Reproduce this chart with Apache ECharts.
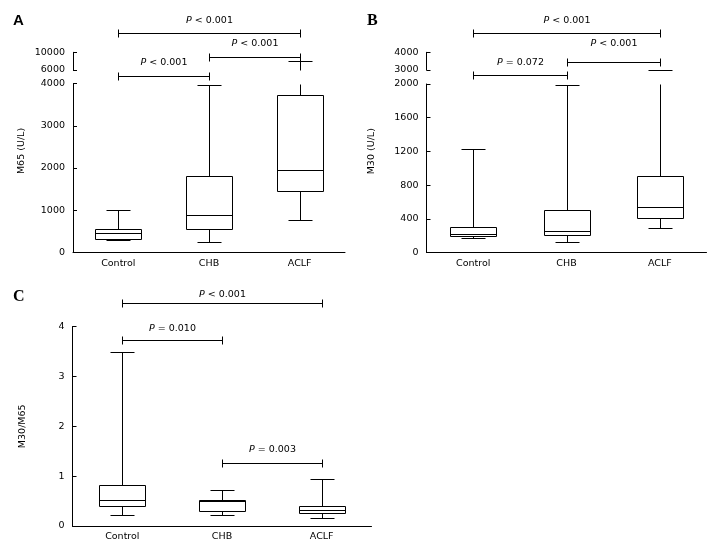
<!DOCTYPE html>
<html>
<head>
<meta charset="utf-8">
<script src="https://cdn.jsdelivr.net/npm/echarts@6/dist/echarts.min.js"></script>
<style>
html, body { margin: 0; padding: 0; background: #fff; }
#chart { width: 716px; height: 550px; }
</style>
</head>
<body>
<div id="chart"></div>
<script>
const categories = ['Control', 'CHB', 'ACLF']

// box stats per group: [low whisker, Q1, median, Q3, high whisker]
const m65Boxes = [
  [300, 320, 470, 560, 1000],
  [250, 560, 890, 1820, 3970],
  [780, 1460, 1950, 3730, 8000]
]
const m30Boxes = [
  [170, 195, 225, 300, 1225],
  [120, 205, 255, 505, 1985],
  [295, 408, 540, 910, 2990]
]
const ratioBoxes = [
  [0.22, 0.40, 0.52, 0.82, 3.49],
  [0.22, 0.295, 0.50, 0.52, 0.72],
  [0.16, 0.27, 0.32, 0.40, 0.95]
]

// broken axis ticks (upper segments)
const m65UpperTicks = [6000, 10000]
const m30UpperTicks = [3000, 4000]

// comparisons: [from group, to group, bracket level, label level] in axis units
const m65Brackets = [[0, 2, 14430, 17140], [1, 2, 8940, 11880], [0, 1, 4640, 7740]]
const m65PValues = ['< 0.001', '< 0.001', '< 0.001']
const m30Brackets = [[0, 2, 5074, 5785], [1, 2, 3435, 4469], [0, 1, 2718, 3435]]
const m30PValues = ['< 0.001', '< 0.001', '= 0.072']
const ratioBrackets = [[0, 2, 4.47, 4.64], [0, 1, 3.72, 3.96], [1, 2, 1.26, 1.54]]
const ratioPValues = ['< 0.001', '= 0.010', '= 0.003']

const FONT = 'DejaVu Sans'
const FS = 9.5
const BOX_W = 46
const CAP_W = 24

const px = v => Math.round(v) + 0.5
const seg = (x1, y1, x2, y2) => ({
  type: 'line',
  shape: { x1, y1, x2, y2 },
  style: { stroke: '#000', lineWidth: 1 }
})

function renderBox(params, api) {
  const cs = params.coordSys
  const top = cs.y, bottom = cs.y + cs.height
  const cat = api.value(0)
  const x = px(api.coord([cat, 0])[0])
  const [lo, q1, md, q3, hi] = [1, 2, 3, 4, 5].map(i => api.coord([cat, api.value(i)])[1])
  const clampY = v => Math.min(bottom, Math.max(top, v))
  const inside = v => v >= top - 1.5 && v <= bottom + 1.5
  const children = []
  const bt = clampY(q3), bb = clampY(q1)
  const wh = clampY(hi), wl = clampY(lo)
  if (Math.abs(bt - wh) > 0.5) children.push(seg(x, px(bt), x, px(wh)))
  if (Math.abs(bb - wl) > 0.5) children.push(seg(x, px(bb), x, px(wl)))
  if (inside(hi)) children.push(seg(x - CAP_W / 2, px(hi), x + CAP_W / 2, px(hi)))
  if (inside(lo)) children.push(seg(x - CAP_W / 2, px(lo), x + CAP_W / 2, px(lo)))
  if (bb - bt > 0.5) {
    children.push({
      type: 'rect',
      shape: { x: x - BOX_W / 2, y: px(bt), width: BOX_W, height: Math.round(bb) - Math.round(bt) },
      style: { fill: '#fff', stroke: '#000', lineWidth: 1 }
    })
  }
  if (inside(md)) children.push(seg(x - BOX_W / 2, px(md), x + BOX_W / 2, px(md)))
  return { type: 'group', children }
}

function renderBracket(labels) {
  return (params, api) => {
    const lvl = api.value(2)
    const a = api.coord([api.value(0), lvl])
    const b = api.coord([api.value(1), lvl])
    const ty = api.coord([0, api.value(3)])[1]
    const y = px(a[1])
    const x1 = px(a[0]), x2 = px(b[0])
    return {
      type: 'group',
      children: [
        seg(x1, y, x2, y),
        seg(x1, y - 4, x1, y + 4),
        seg(x2, y - 4, x2, y + 4),
        {
          type: 'text',
          style: {
            x: (x1 + x2) / 2, y: ty,
            text: '{i|P} ' + labels[params.dataIndex],
            fill: '#000', fontSize: FS, fontFamily: FONT,
            align: 'center', verticalAlign: 'middle',
            rich: { i: { fontStyle: 'italic', fontSize: FS, fontFamily: FONT, fill: '#000' } }
          }
        }
      ]
    }
  }
}

const toData = boxes => boxes.map((b, i) => [i, ...b])
const plain = v => String(v)

function xAxisCfg(gridIndex, show) {
  return {
    type: 'category', gridIndex, data: categories, show,
    boundaryGap: true,
    axisLine: { lineStyle: { color: '#000', width: 1 } },
    axisTick: { inside: true, length: 5, alignWithLabel: true, lineStyle: { color: '#000' } },
    axisLabel: { color: '#000', fontFamily: FONT, fontSize: FS, margin: 6 },
    splitLine: { show: false }
  }
}

function yAxisCfg(gridIndex, min, max, interval, ticks, extra) {
  const tick = { show: true, inside: true, length: 4, lineStyle: { color: '#000' } }
  const label = { color: '#000', fontFamily: FONT, fontSize: FS, margin: 8, formatter: plain, showMinLabel: true, showMaxLabel: true }
  if (ticks) { tick.customValues = ticks; label.customValues = ticks }
  return Object.assign({
    type: 'value', gridIndex, min, max, interval,
    axisLine: { show: true, lineStyle: { color: '#000', width: 1 } },
    axisTick: tick,
    axisLabel: label,
    splitLine: { show: false }
  }, extra || {})
}

const nameStyle = (name, gap, pad) => ({
  name, nameGap: gap, nameLocation: 'middle',
  nameTextStyle: { color: '#000', fontFamily: FONT, fontSize: FS, padding: [0, 0, 0, pad] }
})

const chart = echarts.init(document.getElementById('chart'))

chart.setOption({
  animation: false,
  backgroundColor: '#fff',
  title: [
    { text: 'A', left: 8, top: 8, textStyle: { fontFamily: 'Liberation Sans', fontWeight: 'bold', fontSize: 15, color: '#000' } },
    { text: 'B', left: 362, top: 8, textStyle: { fontFamily: 'Liberation Serif', fontWeight: 'bold', fontSize: 16, color: '#000' } },
    { text: 'C', left: 8, top: 284, textStyle: { fontFamily: 'Liberation Serif', fontWeight: 'bold', fontSize: 16, color: '#000' } }
  ],
  grid: [
    { left: 73, top: 83.5, width: 272, height: 169 },
    { left: 73, top: 52.3, width: 272, height: 17.7 },
    { left: 426.5, top: 84, width: 280, height: 168.5 },
    { left: 426.5, top: 52.3, width: 280, height: 17.7 },
    { left: 72.5, top: 326.5, width: 299, height: 199.5 }
  ],
  xAxis: [
    xAxisCfg(0, true),
    xAxisCfg(1, false),
    xAxisCfg(2, true),
    xAxisCfg(3, false),
    xAxisCfg(4, true)
  ],
  yAxis: [
    yAxisCfg(0, 0, 4000, 1000, null, nameStyle('M65 (U/L)', 46, 34)),
    yAxisCfg(1, 6000, 10000, null, m65UpperTicks),
    yAxisCfg(2, 0, 2000, 400, null, nameStyle('M30 (U/L)', 50, 34)),
    yAxisCfg(3, 3000, 4000, 1000, m30UpperTicks),
    yAxisCfg(4, 0, 4, 1, null, nameStyle('M30/M65', 45, 0))
  ],
  series: [
    { type: 'custom', name: 'M65', xAxisIndex: 0, yAxisIndex: 0, data: toData(m65Boxes), encode: { x: 0, y: [1, 2, 3, 4, 5] }, renderItem: renderBox, silent: true },
    { type: 'custom', name: 'M65 upper', xAxisIndex: 1, yAxisIndex: 1, data: toData(m65Boxes), encode: { x: 0, y: [1, 2, 3, 4, 5] }, renderItem: renderBox, silent: true },
    { type: 'custom', name: 'M30', xAxisIndex: 2, yAxisIndex: 2, data: toData(m30Boxes), encode: { x: 0, y: [1, 2, 3, 4, 5] }, renderItem: renderBox, silent: true },
    { type: 'custom', name: 'M30 upper', xAxisIndex: 3, yAxisIndex: 3, data: toData(m30Boxes), encode: { x: 0, y: [1, 2, 3, 4, 5] }, renderItem: renderBox, silent: true },
    { type: 'custom', name: 'M30/M65', xAxisIndex: 4, yAxisIndex: 4, data: toData(ratioBoxes), encode: { x: 0, y: [1, 2, 3, 4, 5] }, renderItem: renderBox, silent: true },
    { type: 'custom', name: 'M65 P', xAxisIndex: 1, yAxisIndex: 1, data: m65Brackets, encode: { x: [0, 1], y: [2, 3] }, renderItem: renderBracket(m65PValues), silent: true, clip: false },
    { type: 'custom', name: 'M30 P', xAxisIndex: 3, yAxisIndex: 3, data: m30Brackets, encode: { x: [0, 1], y: [2, 3] }, renderItem: renderBracket(m30PValues), silent: true, clip: false },
    { type: 'custom', name: 'Ratio P', xAxisIndex: 4, yAxisIndex: 4, data: ratioBrackets, encode: { x: [0, 1], y: [2, 3] }, renderItem: renderBracket(ratioPValues), silent: true, clip: false }
  ]
})
</script>
</body>
</html>
